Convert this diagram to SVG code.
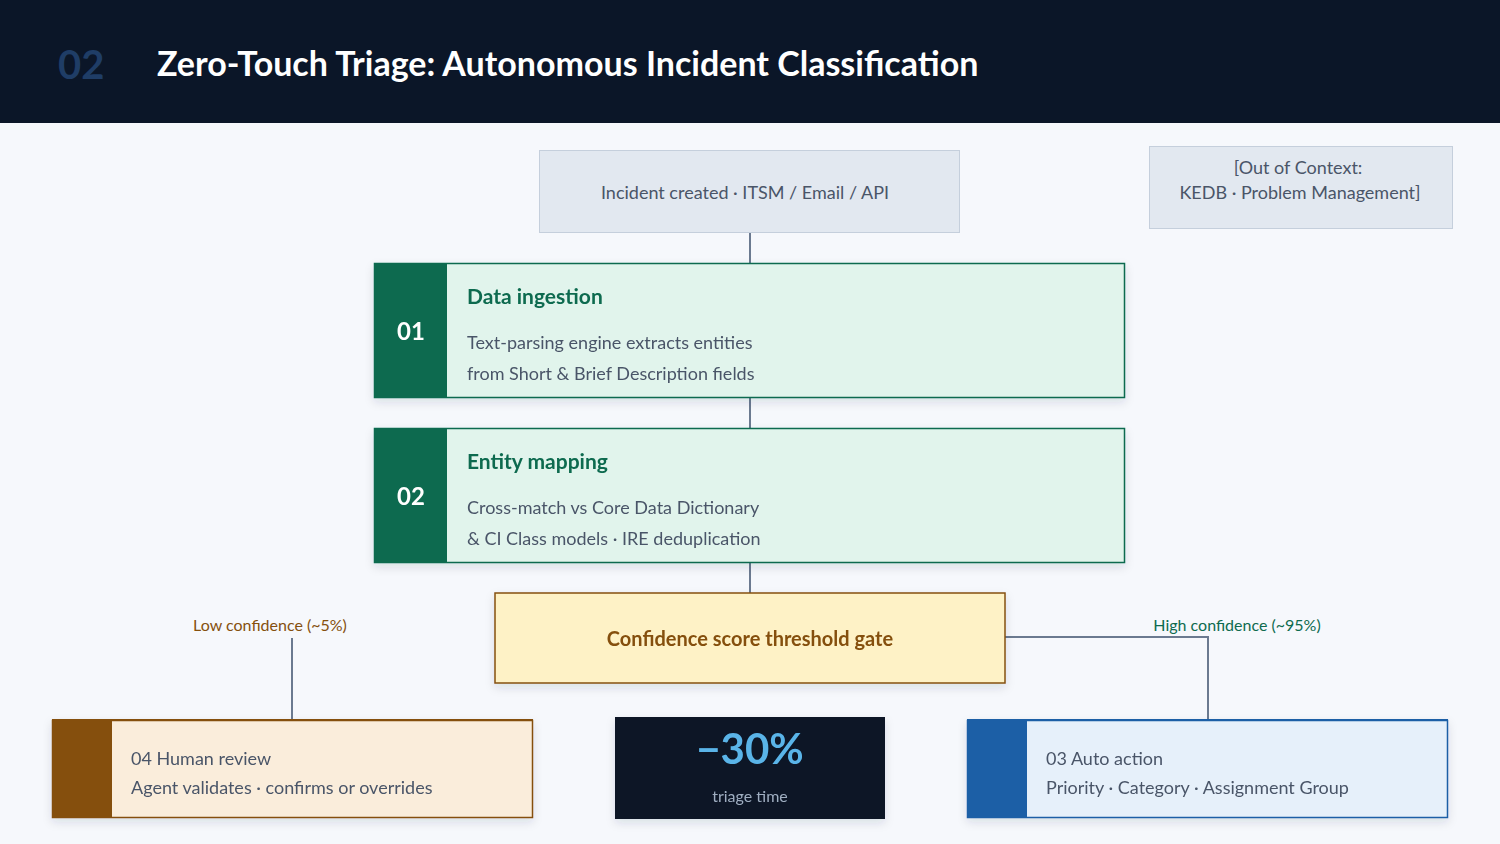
<svg xmlns="http://www.w3.org/2000/svg" width="1500" height="844" viewBox="0 0 1500 844">
<style>
text{font-family:Lato,"Open Sans","Liberation Sans",sans-serif}
.conn{stroke:#6b7a90;stroke-width:2;fill:none}
.body{font-size:18px;fill:#4a5568}
.title{font-size:21px;font-weight:bold;fill:#0e6b4f}
.num{font-size:24px;font-weight:bold;fill:#fff}
.step{fill:#e1f4ec;stroke:#0e6b4f;stroke-width:1.5}
</style>
<defs><filter id="sh" x="-10%" y="-10%" width="120%" height="140%"><feDropShadow dx="0" dy="4" stdDeviation="5" flood-color="#1a2a44" flood-opacity="0.12"/></filter></defs>
<rect width="1500" height="844" fill="#f6f8fc"/>
<g id="header">
<rect width="1500" height="123" fill="#0b1628"/>
<text x="58" y="79" font-size="40" font-weight="bold" fill="#1f3d66">02</text>
<text x="157" y="76" font-size="34" font-weight="bold" fill="#fff">Zero-Touch Triage: Autonomous Incident Classification</text>
</g>
<g id="connectors">
<line class="conn" x1="750" y1="232" x2="750" y2="263"/>
<line class="conn" x1="750" y1="397" x2="750" y2="428"/>
<line class="conn" x1="750" y1="562" x2="750" y2="593"/>
<polyline class="conn" points="1005,637 1208,637 1208,720"/>
<line class="conn" x1="292" y1="638" x2="292" y2="720"/>
<text x="1237" y="631" font-size="16" fill="#0e6b4f" text-anchor="middle">High confidence (~95%)</text>
<text x="270" y="631" font-size="16" fill="#85500e" text-anchor="middle">Low confidence (~5%)</text>
</g>
<g id="incident">
<rect x="539.5" y="150.5" width="420" height="82" fill="#e2e8f0" stroke="#c5cfdc"/>
<text x="745" y="199" class="body" text-anchor="middle">Incident created  ·  ITSM / Email / API</text>
</g>
<g id="out-of-context">
<rect x="1149.5" y="146.5" width="303" height="82" fill="#e2e8f0" stroke="#c5cfdc"/>
<text x="1298" y="174" class="body" text-anchor="middle">[Out of Context:</text>
<text x="1300" y="199" class="body" text-anchor="middle">KEDB · Problem Management]</text>
</g>
<g id="step01" filter="url(#sh)">
<rect class="step" x="374.5" y="263.5" width="750" height="134"/>
<rect x="374" y="263" width="73" height="135" fill="#0e6b4f"/>
<text x="411" y="340" class="num" text-anchor="middle">01</text>
<text x="467" y="304" class="title">Data ingestion</text>
<text x="467" y="349" class="body">Text-parsing engine extracts entities</text>
<text x="467" y="380" class="body">from Short &amp; Brief Description fields</text>
</g>
<g id="step02" filter="url(#sh)">
<rect class="step" x="374.5" y="428.5" width="750" height="134"/>
<rect x="374" y="428" width="73" height="135" fill="#0e6b4f"/>
<text x="411" y="505" class="num" text-anchor="middle">02</text>
<text x="467" y="469" class="title">Entity mapping</text>
<text x="467" y="514" class="body">Cross-match vs Core Data Dictionary</text>
<text x="467" y="545" class="body">&amp; CI Class models · IRE deduplication</text>
</g>
<g id="gate" filter="url(#sh)">
<rect x="495" y="593" width="510" height="90" fill="#fef2c6" stroke="#85500e" stroke-width="1.5"/>
<text x="750" y="646" font-size="20" font-weight="bold" fill="#85500e" text-anchor="middle">Confidence score threshold gate</text>
</g>
<g id="human-review" filter="url(#sh)">
<rect x="52.5" y="720.5" width="480" height="97" fill="#faeddb" stroke="#85500e" stroke-width="1.5"/>
<rect x="52" y="719" width="60" height="99" fill="#85500e"/>
<rect x="52" y="719" width="481" height="2" fill="#85500e"/>
<text x="131" y="765" class="body" fill="#4a5568">04  Human review</text>
<text x="131" y="794" class="body">Agent validates · confirms or overrides</text>
</g>
<g id="metric" filter="url(#sh)">
<rect x="615" y="717" width="270" height="102" fill="#0b1628"/>
<text x="750" y="764" font-size="42" font-weight="bold" fill="#5ab4e8" text-anchor="middle">−30%</text>
<text x="750" y="802" font-size="16" fill="#a0aec0" text-anchor="middle">triage time</text>
</g>
<g id="auto-action" filter="url(#sh)">
<rect x="967.5" y="720.5" width="480" height="97" fill="#e6f0fa" stroke="#1a5fa6" stroke-width="1.5"/>
<rect x="967" y="719" width="60" height="99" fill="#1a5fa6"/>
<rect x="967" y="719" width="481" height="2" fill="#1a5fa6"/>
<text x="1046" y="765" class="body">03  Auto action</text>
<text x="1046" y="794" class="body">Priority · Category · Assignment Group</text>
</g>
</svg>
